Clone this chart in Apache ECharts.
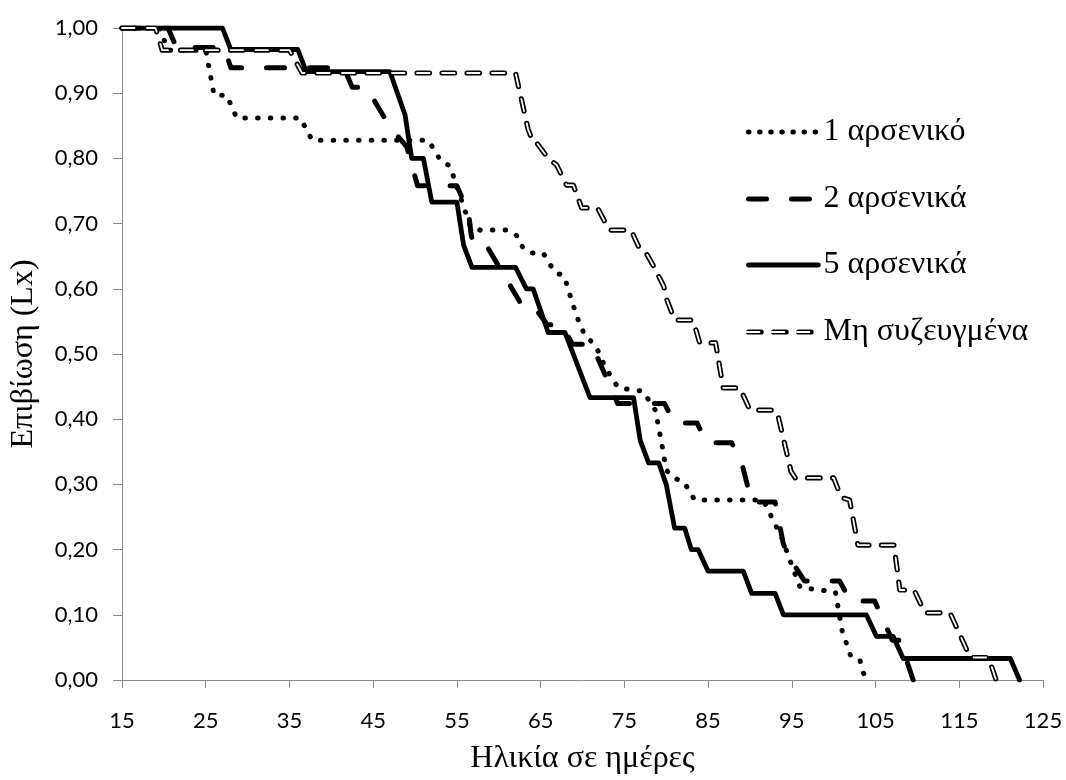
<!DOCTYPE html>
<html><head><meta charset="utf-8">
<script src="https://cdn.jsdelivr.net/npm/echarts@6/dist/echarts.min.js"></script>
<style>html,body{margin:0;padding:0;background:#fff}#c{width:1066px;height:780px}</style>
</head><body><div id="c"></div>
<script>
// ---- data (age in days, survival Lx) ----
const seriesNames = ['1 αρσενικό', '2 αρσενικά', '5 αρσενικά', 'Μη συζευγμένα'];
const xTitle = 'Ηλικία σε ημέρες';
const yTitle = 'Επιβίωση (Lx)';
const xMin = 15, xMax = 125, xStep = 10;
const yMin = 0, yMax = 1, yStep = 0.1;

const male1 = [[15,1],[19.5,1],[20.5,0.966],[25,0.966],[26,0.897],[27.5,0.897],[28.7,0.862],[36.3,0.862],[37.7,0.828],[51.5,0.828],[52.5,0.81],[53,0.797],[54.1,0.789],[54.6,0.772],[56.6,0.696],[57.8,0.69],[61.1,0.69],[62.1,0.682],[62.7,0.666],[63.7,0.655],[65.3,0.655],[66.7,0.625],[67.8,0.62],[68.7,0.582],[69.7,0.544],[70.4,0.526],[71.4,0.516],[72,0.501],[72.6,0.483],[73.5,0.463],[74.3,0.448],[77.2,0.443],[78.7,0.414],[79.5,0.36],[80,0.322],[80.9,0.31],[82.1,0.304],[83.4,0.276],[91.6,0.276],[93.8,0.218],[95.4,0.162],[96,0.142],[100.2,0.135],[101,0.076],[102,0.038],[103.1,0.032],[103.8,0]];

const male2 = [[15,1],[20.5,1],[21.5,0.97],[27.2,0.97],[28,0.939],[41.5,0.939],[42.5,0.909],[44.2,0.909],[47,0.848],[49,0.818],[50.3,0.758],[55,0.758],[56.4,0.716],[56.7,0.683],[57,0.667],[58.5,0.667],[62.7,0.576],[64,0.576],[65.8,0.545],[67.5,0.545],[68.8,0.515],[71.1,0.515],[74.2,0.424],[79.8,0.424],[81,0.394],[83.7,0.394],[84.8,0.364],[87.8,0.364],[89,0.334],[90.2,0.273],[93,0.273],[94,0.208],[95.2,0.178],[96.5,0.152],[100.7,0.152],[102,0.121],[104.9,0.121],[107,0.061],[107.9,0.061],[109.5,0],[111.3,0]];

const male5 = [[15,1],[27,1],[28,0.967],[36,0.967],[37,0.933],[47,0.933],[48.8,0.867],[49.6,0.8],[51,0.8],[52,0.733],[55,0.733],[55.8,0.667],[56.8,0.633],[62,0.633],[63.3,0.6],[64.1,0.6],[65.9,0.533],[67.9,0.533],[70.9,0.433],[76.1,0.433],[76.9,0.367],[77.9,0.333],[79.1,0.333],[80,0.3],[81,0.233],[82.2,0.233],[83,0.2],[83.8,0.2],[85,0.167],[89.2,0.167],[90.2,0.133],[93,0.133],[94,0.1],[103.9,0.1],[105.1,0.067],[107.1,0.067],[108.3,0.033],[121.1,0.033],[122.2,0]];

const unmated = [[15,1],[19,1],[19.8,0.966],[35,0.966],[36.5,0.931],[62,0.931],[63.5,0.845],[64,0.828],[64.3,0.828],[65.9,0.8],[66.9,0.79],[68.1,0.759],[68.9,0.759],[69.9,0.724],[71.8,0.724],[73.2,0.69],[75.8,0.69],[76.8,0.662],[77.6,0.655],[78.6,0.632],[79.7,0.604],[80,0.586],[81,0.552],[83.2,0.552],[84,0.517],[85.9,0.517],[86.8,0.448],[88.8,0.448],[90,0.414],[93,0.414],[93.4,0.403],[94.9,0.32],[95.4,0.31],[100,0.31],[100.9,0.28],[101.9,0.276],[102.9,0.207],[107.2,0.207],[107.9,0.138],[109.6,0.138],[110.9,0.103],[113.9,0.103],[116.3,0.0345],[118.5,0.0345],[119.4,0]];

// ---- styles ----
const SERIF = '"Liberation Serif", "Times New Roman", serif';
const SANS = 'Lato, "Open Sans", sans-serif';
const AXIS_COLOR = '#898989';
const styles = [
  {color:'#000', width:5, type:[0.5, 12.2], cap:'round', join:'round'},
  {color:'#000', width:5, type:[18, 25], cap:'round', join:'round'},
  {color:'#000', width:4.8, type:'solid', cap:'round', join:'round'},
  {color:'#000', width:5.2, type:[12.5, 12.5], cap:'round', join:'round'}
];
const innerStyle = {color:'#fff', width:1.8, type:[12.5, 12.5], cap:'round', join:'round'};
const legendDash = [[0.5, 10.6], [18, 25], 'solid', [12.5, 12.5]];
const legendCenters = [132, 199, 265, 332];
const LH = 38;
const FS = 32;

const datasets = [male1, male2, male5, unmated];
const series = datasets.map((d, i) => ({
  name: seriesNames[i], type: 'line', data: d, symbol: 'none', showSymbol: false,
  lineStyle: styles[i], itemStyle: {color: '#000'}, z: 2 + i, silent: true
}));
series.push({
  name: 'inner', type: 'line', data: unmated, symbol: 'none', showSymbol: false,
  lineStyle: innerStyle, itemStyle: {color: '#fff'}, z: 10, silent: true
});

const legends = seriesNames.map((n, i) => ({
  data: [n], left: 746, top: legendCenters[i] - LH / 2, padding: 0,
  itemWidth: 70, itemHeight: 20, itemGap: 0, selectedMode: false,
  itemStyle: {opacity: 0},
  lineStyle: {width: styles[i].width, type: legendDash[i], cap: 'round'},
  textStyle: {fontFamily: SERIF, fontSize: FS, color: '#000', lineHeight: LH}
}));
legends.push({
  data: ['inner'], left: 746, top: legendCenters[3] - LH / 2, padding: 0,
  itemWidth: 70, itemHeight: 20, itemGap: 0, selectedMode: false, z: 20,
  itemStyle: {opacity: 0},
  formatter: () => ' ',
  lineStyle: {width: innerStyle.width, type: legendDash[3], cap: 'round'},
  textStyle: {fontFamily: SERIF, fontSize: FS, color: '#000', lineHeight: LH}
});

const chart = echarts.init(document.getElementById('c'), null, {renderer: 'canvas'});
chart.setOption({
  animation: false,
  backgroundColor: '#fff',
  grid: {left: 122, right: 23, top: 28, bottom: 93, containLabel: false},
  legend: legends,
  xAxis: {
    type: 'value', min: xMin, max: xMax, interval: xStep,
    name: xTitle, nameLocation: 'middle', nameGap: 63,
    nameTextStyle: {fontFamily: SERIF, fontSize: FS, color: '#000'},
    axisLine: {show: true, lineStyle: {color: AXIS_COLOR, width: 1}},
    axisTick: {show: true, length: 8, lineStyle: {color: AXIS_COLOR}},
    axisLabel: {fontFamily: SANS, fontSize: 22, color: '#000', margin: 30},
    splitLine: {show: false}
  },
  yAxis: {
    type: 'value', min: yMin, max: yMax, interval: yStep,
    name: yTitle, nameLocation: 'middle', nameGap: 82, nameRotate: 90,
    nameTextStyle: {fontFamily: SERIF, fontSize: FS, color: '#000'},
    axisLine: {show: true, lineStyle: {color: AXIS_COLOR, width: 1}},
    axisTick: {show: true, length: 9, lineStyle: {color: AXIS_COLOR}},
    axisLabel: {fontFamily: SANS, fontSize: 22, color: '#000', margin: 24,
      formatter: v => v.toFixed(2).replace('.', ',')},
    splitLine: {show: false}
  },
  series: series
});
</script></body></html>
